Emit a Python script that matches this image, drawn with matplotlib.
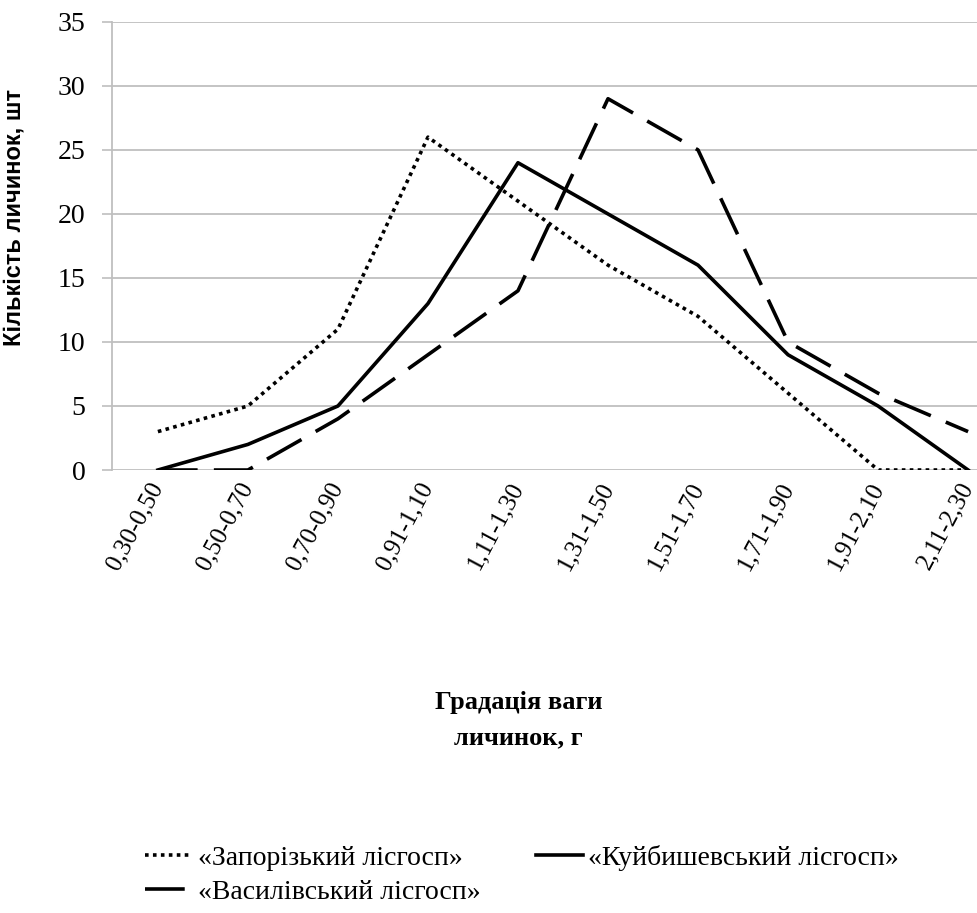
import matplotlib
matplotlib.use("Agg")
import matplotlib.pyplot as plt

categories = ["0,30-0,50", "0,50-0,70", "0,70-0,90", "0,91-1,10", "1,11-1,30",
              "1,31-1,50", "1,51-1,70", "1,71-1,90", "1,91-2,10", "2,11-2,30"]
zaporizkyi = [3, 5, 11, 26, 21, 16, 12, 6, 0, 0]
kuibyshevskyi = [0, 2, 5, 13, 24, 20, 16, 9, 5, 0]
vasylivskyi = [0, 0, 4, 9, 14, 29, 25, 10, 6, 3]
yticks = [0, 5, 10, 15, 20, 25, 30, 35]

serif = "Liberation Serif"

fig = plt.figure(figsize=(9.78, 9.13), dpi=100)
ax = fig.add_axes([0.1145, 0.4852, 0.8855, 0.4908])

x = list(range(len(categories)))
l1, = ax.plot(x, zaporizkyi, color="black", lw=2.6, linestyle=(0, (1, 1.2)),
              dash_capstyle="butt", label="«Запорізький лісгосп»")
l2, = ax.plot(x, kuibyshevskyi, color="black", lw=2.6, linestyle="-",
              label="«Куйбишевський лісгосп»")
l3, = ax.plot(x, vasylivskyi, color="black", lw=2.6, linestyle=(0, (11, 4.5)),
              label="«Василівський лісгосп»")

ax.set_xlim(-0.51, 9.11)
ax.set_ylim(0, 35)
ax.set_yticks(yticks)
ax.set_yticklabels([str(v) for v in yticks], fontfamily=serif, fontsize=20)
ax.yaxis.grid(True, color="#bfbfbf", lw=1.3)
ax.set_axisbelow(True)
ax.tick_params(axis="y", length=7, width=1.2, color="#bfbfbf", pad=12)
ax.tick_params(axis="x", length=0, pad=10)
ax.set_xticks(x)
ax.set_xticklabels(categories, fontfamily=serif, fontsize=18, rotation=62,
                   ha="right", va="center", rotation_mode="anchor")
for s in ["top", "right", "bottom"]:
    ax.spines[s].set_visible(False)
ax.spines["left"].set_color("#bfbfbf")
ax.spines["left"].set_linewidth(1.3)

ax.set_ylabel("Кількість личинок, шт", fontfamily="Liberation Sans",
              fontweight="bold", fontsize=17)
ax.yaxis.set_label_coords(-0.1, 0.5625)

fig.text(0.53, 0.2114, "Градація ваги\nличинок, г", ha="center", va="center",
         fontfamily=serif, fontweight="bold", fontsize=19, linespacing=1.7)

leg = fig.legend(handles=[l1, l3, l2], ncol=2, loc="center left",
                 bbox_to_anchor=(0.148, 0.0416), frameon=False, borderpad=0,
                 borderaxespad=0,
                 prop={"family": serif, "size": 20}, handlelength=1.7,
                 handletextpad=0.2, columnspacing=2.0, labelspacing=0.3)

fig.savefig("out.png", dpi=100)
